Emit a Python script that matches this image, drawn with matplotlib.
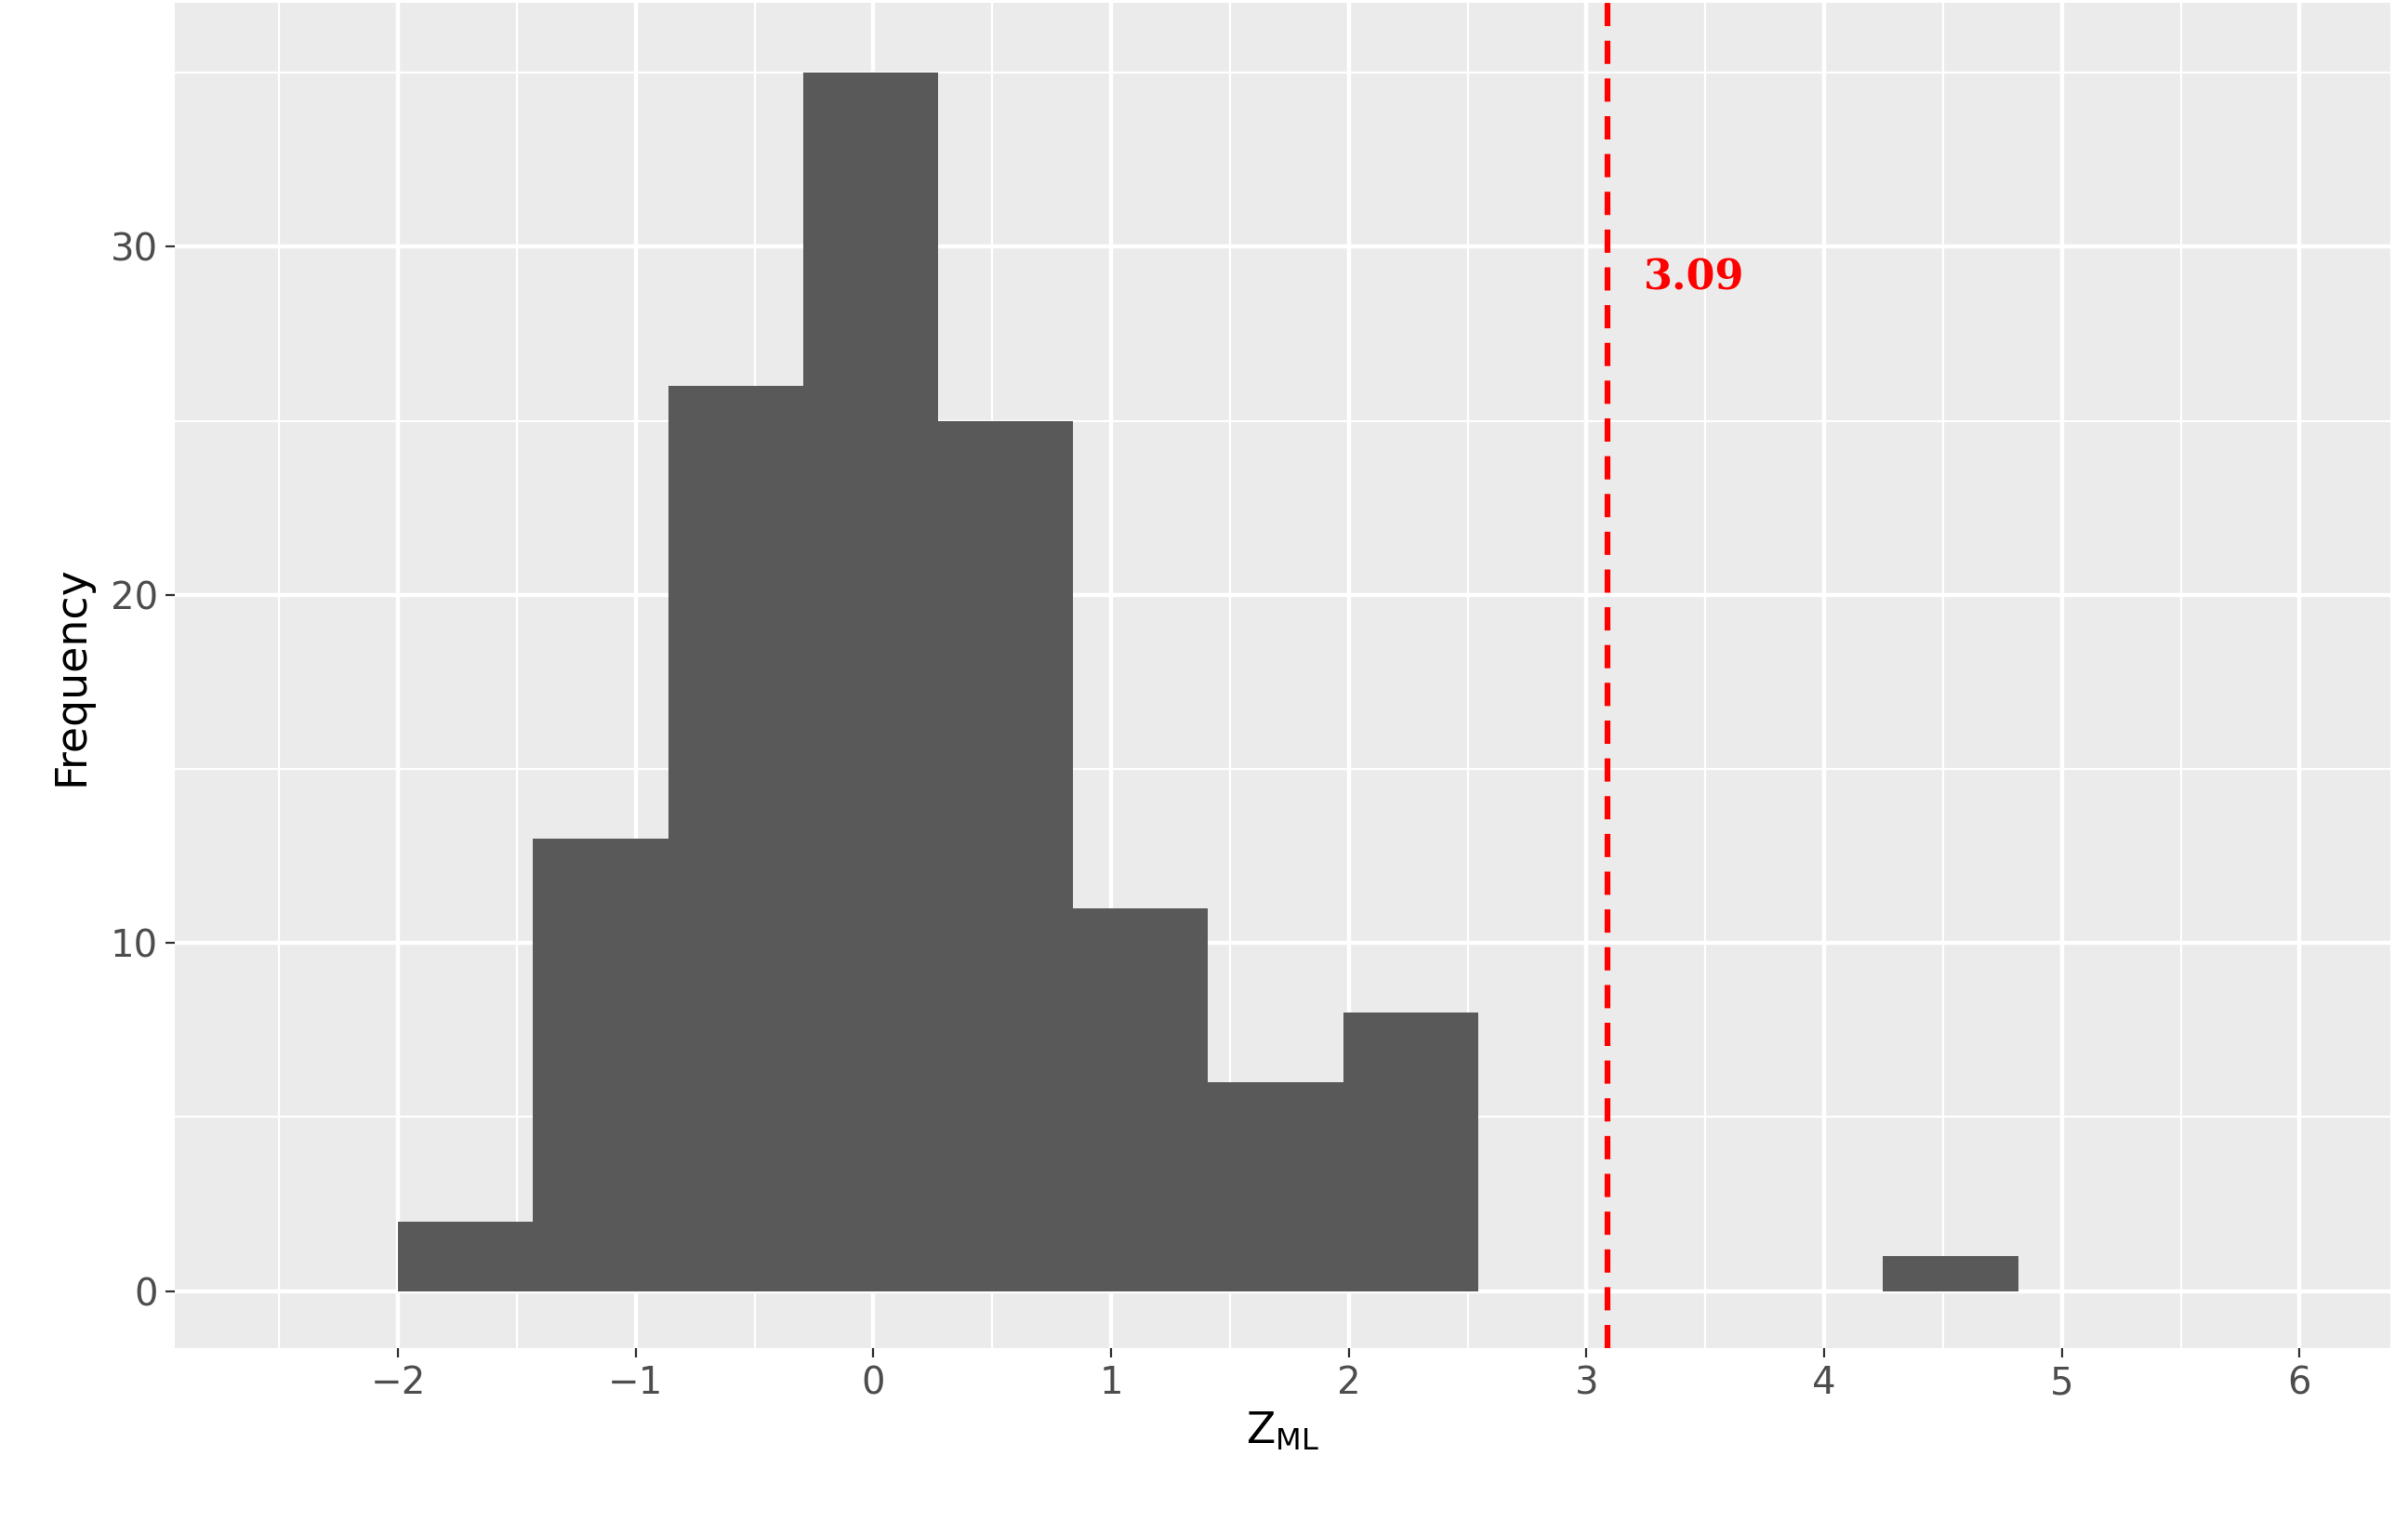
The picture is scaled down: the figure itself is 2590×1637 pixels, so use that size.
import matplotlib
matplotlib.use("Agg")
import matplotlib.pyplot as plt
import numpy as np

# histogram bins
bin_left = [-2.0, -1.432, -0.864, -0.296, 0.272, 0.840, 1.408, 1.976, 4.248]
counts = [2, 13, 26, 35, 25, 11, 6, 8, 1]
bin_width = 0.568
threshold = 3.09

fig = plt.figure(figsize=(25.9, 16.37), dpi=100)
ax = fig.add_axes([0.0725, 0.114, 0.92, 0.884])
ax.set_facecolor("#EBEBEB")
ax.bar(bin_left, counts, width=bin_width, align="edge", color="#595959", zorder=3)

ax.set_xlim(-2.94, 6.38)
ax.set_ylim(-1.65, 37.0)
ax.set_xticks(range(-2, 7))
ax.set_xticks(np.arange(-2.5, 6.5, 1.0), minor=True)
ax.set_yticks([0, 10, 20, 30])
ax.set_yticks([5, 15, 25, 35], minor=True)
ax.grid(which="major", color="white", lw=3.2, zorder=1)
ax.grid(which="minor", color="white", lw=1.6, zorder=1)
for s in ax.spines.values():
    s.set_visible(False)
ax.tick_params(which="major", length=7, width=1.6, color="#333333",
               labelsize=29, labelcolor="#4D4D4D", pad=6)
ax.tick_params(which="minor", length=0)

ax.axvline(threshold, color="red", ls=(0, (4, 2.5)), lw=4.5, zorder=4)
ax.text(threshold + 0.15, 29.1, f"{threshold:.2f}", color="red", fontsize=32,
        fontweight="bold", family="DejaVu Serif", va="center", ha="left", zorder=5)

ax.set_xlabel(r"Z$_{\mathrm{ML}}$", fontsize=33, labelpad=6)
ax.set_ylabel("Frequency", fontsize=33, labelpad=14)

fig.savefig("out.png", dpi=100)
